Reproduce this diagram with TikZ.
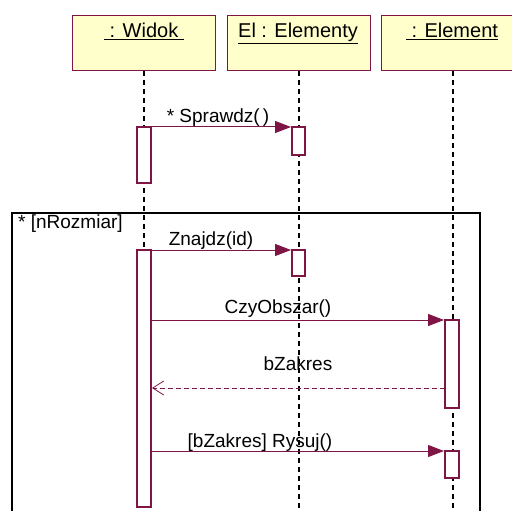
\documentclass[tikz,border=0pt]{standalone}
\usepackage{fontspec}
\setmainfont{Liberation Sans}
\usetikzlibrary{arrows.meta}
\definecolor{umlred}{HTML}{7F1545}
\definecolor{umlfill}{HTML}{FFFFCC}
\tikzset{
  objbox/.style={draw=umlred, fill=umlfill, line width=1.2pt, minimum width=143pt, minimum height=55pt, inner sep=0pt},
  objname/.style={font=\fontsize{20}{22}\selectfont, anchor=base, inner sep=0pt},
  lifeline/.style={black, line width=1.2pt, dash pattern=on 5pt off 4pt},
  actbox/.style={draw=umlred, fill=white, line width=1.1pt},
  callmsg/.style={draw=umlred, line width=1pt, -{Triangle[length=16pt,width=12pt]}, umlred},
  retmsg/.style={draw=umlred, line width=1pt, dash pattern=on 5pt off 3pt, -{Straight Barb[length=11pt,width=14pt,line width=0.8pt]}},
  msglabel/.style={font=\fontsize{19}{21}\selectfont, anchor=base, inner sep=0pt},
  frame/.style={draw=black, line width=1.2pt}
}
\begin{document}
\begin{tikzpicture}[x=1pt,y=-1pt]
\useasboundingbox (0,0) rectangle (512,511);
\clip (0,0) rectangle (512,511);
% object heads
\node[objbox, anchor=north west] (widok) at (72,15) {};
\node[objbox, anchor=north west] (elem) at (227,15) {};
\node[objbox, anchor=north west] (element) at (381,15) {};
\node[objname] (widokname) at (144,38) {\underline{\ : Widok\ }};
\node[objname] (elemname) at (298,38) {\underline{El : Elementy}};
\node[objname] (elementname) at (452,38) {\underline{\ : Element}};
% lifelines
\coordinate (wend) at (144,515);
\coordinate (eend) at (299,515);
\coordinate (tend) at (453,515);
\draw[lifeline] (widok.south -| wend) -- (wend);
\draw[lifeline] (elem.south -| eend) -- (eend);
\draw[lifeline] (element.south -| tend) -- (tend);
% loop fragment
\draw[frame] (12,515) -- (12,213) coordinate (fnw) -- (480,213) -- (480,515);
\node[font=\fontsize{19}{21}\selectfont, anchor=base west, inner sep=0pt] (guard) at (18,228) {* [nRozmiar]};
% activations
\draw[actbox] (137,127) rectangle (151,183);
\coordinate (a1) at (151,127);
\draw[actbox] (292,127) rectangle (305,155);
\coordinate (b1) at (291,127);
\draw[actbox] (137,250) rectangle (151,507);
\coordinate (a2) at (151,250);
\draw[actbox] (292,250) rectangle (305,276);
\coordinate (b2) at (291,250);
\draw[actbox] (445,320) rectangle (459,408);
\coordinate (c1) at (444,320);
\coordinate (c1r) at (445,388);
\coordinate (a3) at (151,320);
\coordinate (a4) at (152,388);
\draw[actbox] (445,451) rectangle (459,478);
\coordinate (c2) at (444,451);
\coordinate (a5) at (151,451);
% messages
\draw[callmsg] (a1) -- (b1);
\node[msglabel] (m1) at (218,122) {* Sprawdz(\,)};
\draw[callmsg] (a2) -- (b2);
\node[msglabel] (m2) at (211,245) {Znajdz(id)};
\draw[callmsg] (a3) -- (c1);
\node[msglabel] (m3) at (278,313) {CzyObszar()};
\draw[retmsg] (c1r) -- (a4);
\node[msglabel] (m4) at (298,370) {bZakres};
\draw[callmsg] (a5) -- (c2);
\node[msglabel] (m5) at (260,447) {[bZakres] Rysuj()};
\end{tikzpicture}
\end{document}
